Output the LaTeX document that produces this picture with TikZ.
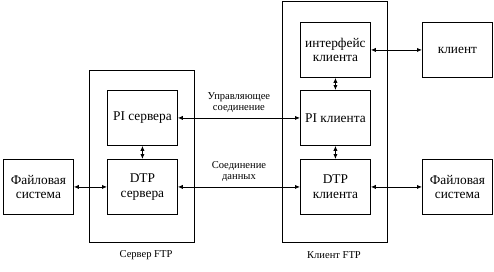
\documentclass[tikz,border=0pt]{standalone}
\usepackage{fontspec}
\setmainfont{Liberation Serif}
\usetikzlibrary{arrows.meta, positioning}

\begin{document}
\begin{tikzpicture}[x=0.025cm, y=-0.025cm,
    every node/.style={font=\fontsize{9.5}{10.5}\selectfont},
    frame/.style={rectangle, draw, line width=0.6pt, minimum width=2.625cm, anchor=north west},
    unit/.style={rectangle, draw, line width=0.6pt, minimum width=1.75cm, minimum height=1.375cm, align=center, anchor=north west, inner sep=1pt},
    linklabel/.style={font=\fontsize{7.5}{8}\selectfont, align=center},
    caption/.style={font=\fontsize{7.5}{8}\selectfont},
    link/.style={line width=0.6pt, {Latex[length=3.5pt,width=3pt]}-{Latex[length=3.5pt,width=3pt]}},
]
\useasboundingbox (0,0) rectangle (494,271);
% server side
\node[frame, minimum height=4.3cm] (srv) at (89,70) {};
\node[unit] (srvpi) at (107,90) {PI сервера};
\node[unit] (srvdtp) at (107,159) {DTP\\сервера};
\node[unit] (fsleft) at (3,159) {Файловая\\система};
\node[caption] (srvcap) at (146,255) {Сервер FTP};
% client side
\node[frame, minimum height=6.025cm] (cli) at (282,1) {};
\node[unit] (cliif) at (300,22) {интерфейс\\клиента};
\node[unit] (clipi) at (300,90) {PI клиента};
\node[unit] (clidtp) at (300,159) {DTP\\клиента};
\node[unit] (user) at (422,22) {клиент};
\node[unit] (fsright) at (422,159) {Файловая\\система};
\node[caption] (clicap) at (334,255) {Клиент FTP};
% connections
\draw[link] (srvpi) -- (srvdtp);
\draw[link] (cliif) -- (clipi);
\draw[link] (clipi) -- (clidtp);
\draw[link] (fsleft) -- (srvdtp);
\draw[link] (srvpi) -- node[linklabel, above] (ctrl) {Управляющее\\соединение} (clipi);
\draw[link] (srvdtp) -- node[linklabel, above] (data) {Соединение\\данных} (clidtp);
\draw[link] (cliif) -- (user);
\draw[link] (clidtp) -- (fsright);
\end{tikzpicture}
\end{document}
